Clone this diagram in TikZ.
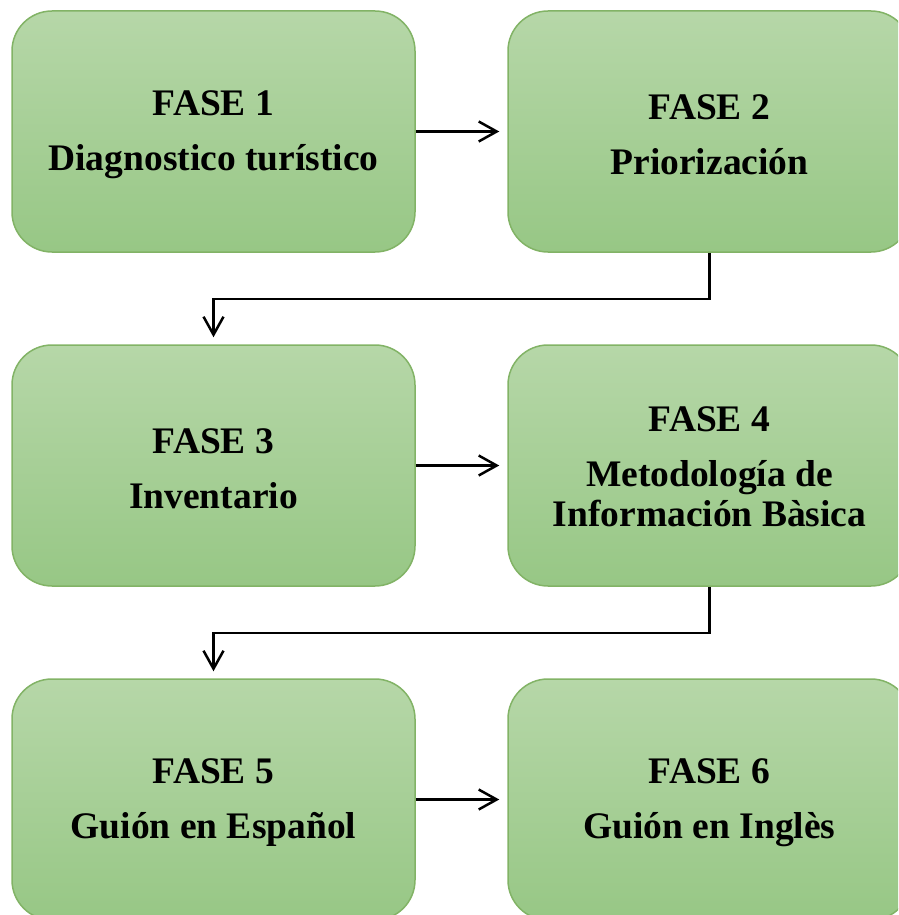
\documentclass[tikz,border=0pt]{standalone}
\usepackage{fontspec}
\setmainfont{Liberation Serif}
\usetikzlibrary{arrows.meta}
\definecolor{gtop}{RGB}{182,215,168}
\definecolor{gbot}{RGB}{151,199,133}
\definecolor{gline}{RGB}{130,179,102}
\begin{document}
\begin{tikzpicture}[x=1pt,y=1pt,
  phase/.style={draw=gline, line width=1.5pt, rounded corners=40pt,
    top color=gtop, bottom color=gbot,
    minimum width=403pt, minimum height=241pt, inner sep=0pt},
  phasetext/.style={inner sep=0pt, align=center,
    font=\fontsize{37.5}{40}\selectfont\bfseries},
  conn/.style={line width=2.5pt, -{Straight Barb[length=18pt,width=20pt,line width=2.5pt]}}]
\clip (0,0) rectangle (898,-915);
\node[phase] (f1) at (213.5,-131.5) {};
\node[phase] (f2) at (709.5,-131.5) {};
\node[phase] (f3) at (213.5,-465.5) {};
\node[phase] (f4) at (709.5,-465.5) {};
\node[phase] (f5) at (213.5,-799.5) {};
\node[phase] (f6) at (709.5,-799.5) {};
\node[phasetext] (t1) at ([yshift=-3pt]f1.center) {FASE 1\\[15pt]Diagnostico turístico};
\node[phasetext] (t2) at ([yshift=-3pt]f2.center) {FASE 2\\[15pt]Priorización};
\node[phasetext] (t3) at ([yshift=-3pt]f3.center) {FASE 3\\[15pt]Inventario};
\node[phasetext] (t4) at ([yshift=-1pt]f4.center) {FASE 4\\[15pt]Metodología de\\Información Bàsica};
\node[phasetext] (t5) at ([yshift=-3pt]f5.center) {FASE 5\\[15pt]Guión en Español};
\node[phasetext] (t6) at ([yshift=-3pt]f6.center) {FASE 6\\[15pt]Guión en Inglès};
\draw[conn] (f1.east) -- ([xshift=-8pt]f2.west);
\draw[conn] (f3.east) -- ([xshift=-8pt]f4.west);
\draw[conn] (f5.east) -- ([xshift=-8pt]f6.west);
\draw[conn] (f2.south) -- ++(0,-46) -| ([yshift=7pt]f3.north);
\draw[conn] (f4.south) -- ++(0,-46) -| ([yshift=7pt]f5.north);
\end{tikzpicture}
\end{document}
